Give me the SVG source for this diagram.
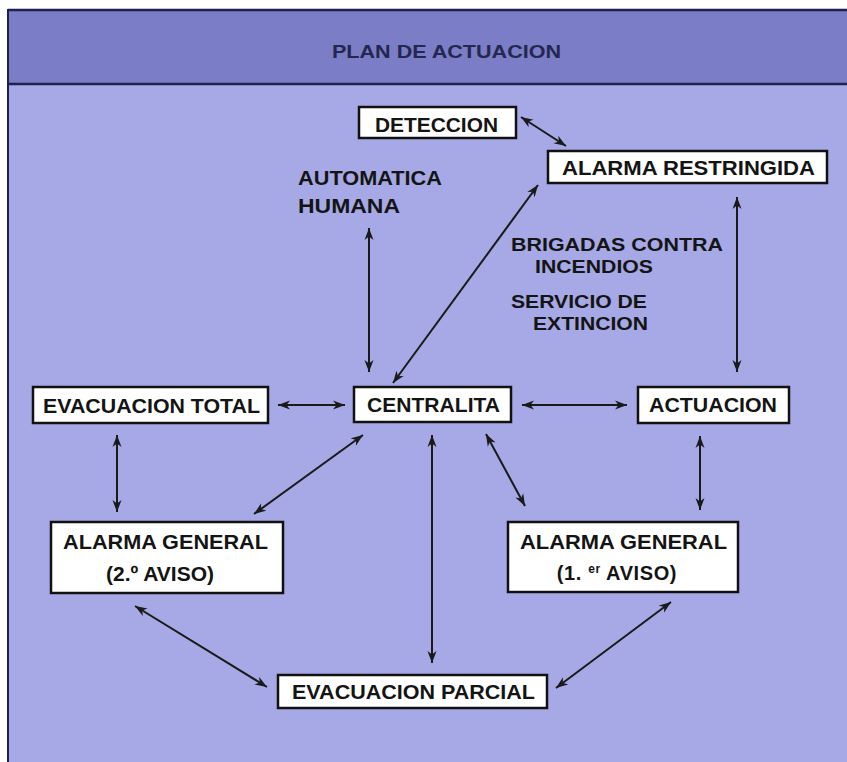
<svg xmlns="http://www.w3.org/2000/svg" width="847" height="762" viewBox="0 0 847 762">
<style>
.box{fill:#ffffff;stroke:#111111;stroke-width:2.5}
.lbl{font-family:"Liberation Sans",Arial,sans-serif;font-weight:bold;font-size:20px;fill:#141414}
.sm{font-size:19px}
.conn line{stroke:#1a1a1a;stroke-width:2;marker-start:url(#ah);marker-end:url(#ah)}
</style>
<defs>
<marker id="ah" markerUnits="userSpaceOnUse" markerWidth="14" markerHeight="10" refX="12" refY="5" orient="auto-start-reverse">
<path d="M0,0.5 L12,5 L0,9.5 L3.5,5 Z" fill="#1a1a1a"/>
</marker>
</defs>
<rect x="0" y="0" width="847" height="762" fill="#ffffff"/>
<rect x="8" y="10" width="845" height="760" fill="#a6a9e5" stroke="#1e2050" stroke-width="2"/>
<rect x="8" y="10" width="845" height="74" fill="#7b7dc6"/>
<line x1="8" y1="10" x2="847" y2="10" stroke="#1e2050" stroke-width="2.5"/>
<line x1="8" y1="84" x2="847" y2="84" stroke="#1e2050" stroke-width="2.5"/>
<line x1="8" y1="10" x2="8" y2="762" stroke="#1e2050" stroke-width="2"/>
<text x="332" y="58" font-family="'Liberation Sans',Arial,sans-serif" font-weight="bold" font-size="18" fill="#24274f" textLength="229" lengthAdjust="spacingAndGlyphs">PLAN DE ACTUACION</text>

<g id="connectors" class="conn">
<line x1="521" y1="117" x2="566" y2="146"/>
<line x1="369" y1="228" x2="369" y2="372"/>
<line x1="393" y1="383" x2="538" y2="185"/>
<line x1="737" y1="197" x2="737" y2="372"/>
<line x1="278" y1="405" x2="345" y2="405"/>
<line x1="522" y1="405" x2="627" y2="405"/>
<line x1="117" y1="435" x2="117" y2="512"/>
<line x1="363" y1="435" x2="254" y2="514"/>
<line x1="432" y1="435" x2="432" y2="663"/>
<line x1="486" y1="434" x2="525" y2="506"/>
<line x1="700" y1="436" x2="700" y2="510"/>
<line x1="135" y1="606" x2="267" y2="687"/>
<line x1="671" y1="602" x2="556" y2="688"/>
</g>

<g id="deteccion">
<rect class="box" x="359" y="107" width="157" height="31"/>
<text class="lbl" x="375" y="132" textLength="123" lengthAdjust="spacingAndGlyphs">DETECCION</text>
</g>
<g id="alarma-restringida">
<rect class="box" x="548" y="151" width="279" height="32"/>
<text class="lbl" x="562" y="175" textLength="253" lengthAdjust="spacingAndGlyphs">ALARMA RESTRINGIDA</text>
</g>
<g id="labels-deteccion">
<text class="lbl" x="298" y="185" textLength="144" lengthAdjust="spacingAndGlyphs">AUTOMATICA</text>
<text class="lbl" x="298" y="213" textLength="102" lengthAdjust="spacingAndGlyphs">HUMANA</text>
</g>
<g id="labels-actuacion">
<text class="lbl sm" x="511" y="251" textLength="212" lengthAdjust="spacingAndGlyphs">BRIGADAS CONTRA</text>
<text class="lbl sm" x="535" y="273" textLength="118" lengthAdjust="spacingAndGlyphs">INCENDIOS</text>
<text class="lbl sm" x="511" y="308" textLength="136" lengthAdjust="spacingAndGlyphs">SERVICIO DE</text>
<text class="lbl sm" x="533" y="330" textLength="115" lengthAdjust="spacingAndGlyphs">EXTINCION</text>
</g>
<g id="evacuacion-total">
<rect class="box" x="33" y="387" width="235" height="36"/>
<text class="lbl" x="43" y="413" textLength="217" lengthAdjust="spacingAndGlyphs">EVACUACION TOTAL</text>
</g>
<g id="centralita">
<rect class="box" x="354" y="387" width="157" height="35"/>
<text class="lbl" x="367" y="412" textLength="133" lengthAdjust="spacingAndGlyphs">CENTRALITA</text>
</g>
<g id="actuacion">
<rect class="box" x="638" y="387" width="151" height="36"/>
<text class="lbl" x="649" y="412" textLength="128" lengthAdjust="spacingAndGlyphs">ACTUACION</text>
</g>
<g id="alarma-general-2">
<rect class="box" x="51" y="522" width="232" height="71"/>
<text class="lbl" x="63" y="549" textLength="205" lengthAdjust="spacingAndGlyphs">ALARMA GENERAL</text>
<text class="lbl" x="106" y="581" textLength="108" lengthAdjust="spacingAndGlyphs">(2.º AVISO)</text>
</g>
<g id="alarma-general-1">
<rect class="box" x="508" y="522" width="230" height="70"/>
<text class="lbl" x="520" y="549" textLength="207" lengthAdjust="spacingAndGlyphs">ALARMA GENERAL</text>
<text class="lbl" x="617" y="580" text-anchor="middle" letter-spacing="0.6">(1. <tspan font-size="12" baseline-shift="7">er</tspan> AVISO)</text>
</g>
<g id="evacuacion-parcial">
<rect class="box" x="278" y="675" width="269" height="33"/>
<text class="lbl" x="292" y="699" textLength="243" lengthAdjust="spacingAndGlyphs">EVACUACION PARCIAL</text>
</g>
</svg>
